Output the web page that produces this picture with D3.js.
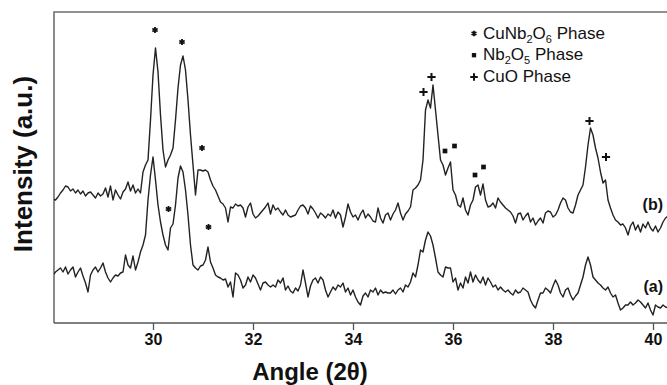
<!DOCTYPE html>
<html>
<head>
<meta charset="utf-8">
<script src="https://cdn.jsdelivr.net/npm/d3@7"></script>
<style>
  html, body { margin: 0; padding: 0; background: #fff; }
  svg { display: block; }
  text { font-family: "Liberation Sans", Arial, sans-serif; }
</style>
</head>
<body>
<svg id="chart" width="667" height="385"></svg>
<script>
// Scan grid: 2θ from 28.00° in steps of 0.05°
const scanStart = 28.0;
const scanStep = 0.05;

// Sample (b): diffracted intensity, arbitrary units
const intensityB = [
  124,123,126,130,133,137,136,132,134,130,
  133,129,132,127,130,131,128,125,130,127,
  129,135,126,137,123,133,128,124,131,134,
  141,132,138,130,134,130,151,158,163,203,
  248,275,251,208,173,156,163,168,175,203,
  235,258,267,253,223,188,158,128,153,153,
  152,153,151,143,137,133,127,121,119,115,
  101,116,115,119,117,118,115,106,116,120,
  109,105,107,110,113,116,120,109,118,113,
  115,111,108,113,108,106,107,108,113,117,
  118,115,109,117,114,110,105,110,108,105,
  109,107,113,105,111,108,96,106,119,111,
  106,108,103,109,113,105,109,106,102,101,
  115,105,100,108,110,103,109,113,120,110,
  103,109,112,116,133,135,138,143,163,213,
  223,215,238,213,188,163,158,148,155,161,
  133,128,118,116,125,113,108,118,123,136,
  138,128,139,123,116,117,120,115,125,121,
  118,115,113,111,107,100,109,110,103,107,
  110,101,105,98,102,105,100,110,112,111,
  106,108,113,120,125,123,115,111,110,118,
  128,133,138,156,178,195,188,175,165,151,
  140,143,123,115,108,103,101,98,99,95,
  88,97,101,93,98,91,99,95,101,95,
  92,97,91,95,101,105,107
];

// Sample (a): diffracted intensity, arbitrary units
const intensityA = [
  48,51,53,55,51,56,49,53,56,46,
  51,55,47,40,31,48,53,56,51,55,
  60,51,45,41,45,48,47,50,51,68,
  58,55,67,53,61,71,78,88,123,148,
  166,143,118,101,88,78,73,95,99,118,
  145,157,151,133,108,78,58,55,53,57,
  58,63,76,61,55,48,46,45,43,44,
  36,41,26,50,48,43,35,38,46,41,
  48,45,39,33,40,41,38,36,38,36,
  43,40,45,33,37,32,30,35,32,38,
  53,40,26,37,43,45,40,46,43,33,
  26,31,36,33,38,36,40,31,35,28,
  33,26,21,18,27,30,26,33,31,35,
  28,33,30,31,30,30,33,29,33,35,
  31,38,36,41,50,46,58,73,71,83,
  91,87,78,65,51,48,46,56,55,55,
  41,45,33,40,35,46,40,51,41,48,
  43,40,46,38,45,41,36,38,33,36,
  33,31,33,30,28,33,30,31,35,33,
  31,23,18,15,23,30,30,35,33,30,
  37,43,38,30,26,33,35,28,23,27,
  30,38,46,58,66,58,46,43,40,38,
  35,33,36,30,26,28,20,13,15,18,
  18,21,18,20,23,21,18,15,20,13,
  8,18,16,15,18,16,15
];

const xTickValues = [30, 32, 34, 36, 38, 40];

// Phase assignment marks: symbol kind, 2θ position, height (a.u.)
const markKinds  = ["star","star","star","star","star","plus","plus","plus","plus","square","square","square","square"];
const markAngles = [30.04, 30.58, 30.98, 30.31, 31.11, 35.41, 35.57, 38.73, 39.06, 35.84, 36.03, 36.44, 36.61];
const markValues = [293, 281, 175, 114, 96, 231, 246, 202, 166, 172, 177, 148, 156];

// Legend entries: [text, isSubscript] pieces
const legendKinds = ["star", "square", "plus"];
const legendLabels = [
  [["CuNb", false], ["2", true], ["O", false], ["6", true], [" Phase", false]],
  [["Nb", false], ["2", true], ["O", false], ["5", true], [" Phase", false]],
  [["CuO Phase", false]]
];

const sampleNames = ["(b)", "(a)"];

const svg = d3.select("#chart");
const W = 667, H = 385;
const plot = { left: 54, top: 12, right: 667, bottom: 323 };

const x = d3.scaleLinear().domain([28, 40.28]).range([53, 667]);
const y = d3.scaleLinear().domain([0, 311]).range([plot.bottom, plot.top]);

const toPoints = arr => arr.map((v, i) => [scanStart + i * scanStep, v]);

svg.append("defs").append("clipPath").attr("id", "plot-clip")
  .append("rect")
  .attr("x", plot.left).attr("y", plot.top)
  .attr("width", plot.right - plot.left).attr("height", plot.bottom - plot.top);

// Frame: left and top edges
svg.append("path")
  .attr("d", `M${plot.left},${plot.bottom} V${plot.top} H${W}`)
  .attr("fill", "none").attr("stroke", "#6e6e6e").attr("stroke-width", 1.6);

// Bottom axis
const xAxis = d3.axisBottom(x).tickValues(xTickValues).tickSize(7).tickSizeOuter(0).tickPadding(4);
const gx = svg.append("g").attr("transform", `translate(0,${plot.bottom})`).call(xAxis);
gx.select(".domain").attr("stroke", "#555").attr("stroke-width", 1.6)
  .attr("d", `M${plot.left},0H${W}`);
gx.selectAll(".tick line").attr("stroke", "#555").attr("stroke-width", 1.3);
gx.selectAll(".tick text")
  .attr("font-family", "Liberation Sans, Arial, sans-serif")
  .attr("font-size", 16).attr("font-weight", "bold").attr("fill", "#111");

// Diffraction patterns
const line = d3.line().x(d => x(d[0])).y(d => y(d[1]));
const curves = svg.append("g").attr("clip-path", "url(#plot-clip)");
[intensityB, intensityA].forEach(series => {
  curves.append("path")
    .datum(toPoints(series))
    .attr("d", line)
    .attr("fill", "none")
    .attr("stroke", "#222")
    .attr("stroke-width", 1.4)
    .attr("stroke-linejoin", "round");
});

// Symbols for phase marks
function drawSymbol(g, kind, cx, cy, scale = 1) {
  if (kind === "star") {
    g.append("path")
      .attr("transform", `translate(${cx},${cy})`)
      .attr("d", d3.symbol(d3.symbolAsterisk, 26 * scale)())
      .attr("fill", "none").attr("stroke", "#111").attr("stroke-width", 1.8);
  } else if (kind === "plus") {
    g.append("path")
      .attr("transform", `translate(${cx},${cy})`)
      .attr("d", d3.symbol(d3.symbolPlus, 24 * scale)())
      .attr("fill", "none").attr("stroke", "#111").attr("stroke-width", 2);
  } else {
    g.append("path")
      .attr("transform", `translate(${cx},${cy})`)
      .attr("d", d3.symbol(d3.symbolSquare, 22 * scale)())
      .attr("fill", "#111");
  }
}

const marks = svg.append("g");
markKinds.forEach((k, i) => drawSymbol(marks, k, x(markAngles[i]), y(markValues[i])));

// Legend
const legend = svg.append("g");
const legendX = 474, legendBase = 38.5, legendGap = 21.7;
legendLabels.forEach((pieces, i) => {
  const by = legendBase + i * legendGap;
  drawSymbol(legend, legendKinds[i], legendX, by - 5, 0.85);
  const t = legend.append("text")
    .attr("x", legendX + 9).attr("y", by)
    .attr("font-size", 17).attr("fill", "#111");
  pieces.forEach(([s, sub], j) => {
    const ts = t.append("tspan").text(s);
    const prevSub = j > 0 && pieces[j - 1][1];
    if (sub) ts.attr("font-size", 11).attr("dy", 4);
    else if (prevSub) ts.attr("dy", -4);
  });
});

// Sample labels at the right-hand end of each trace
const labelY = [210, 291.5];
sampleNames.forEach((s, i) => {
  svg.append("text")
    .attr("x", 663).attr("y", labelY[i])
    .attr("text-anchor", "end")
    .attr("font-size", 16).attr("font-weight", "bold").attr("fill", "#111")
    .text(s);
});

// Axis titles
svg.append("text")
  .attr("x", 310).attr("y", 380)
  .attr("text-anchor", "middle")
  .attr("font-size", 24).attr("font-weight", "bold").attr("fill", "#111")
  .text("Angle (2θ)");

svg.append("text")
  .attr("transform", "translate(32,164) rotate(-90)")
  .attr("text-anchor", "middle")
  .attr("font-size", 26).attr("font-weight", "bold").attr("fill", "#111")
  .text("Intensity (a.u.)");
</script>
</body>
</html>
